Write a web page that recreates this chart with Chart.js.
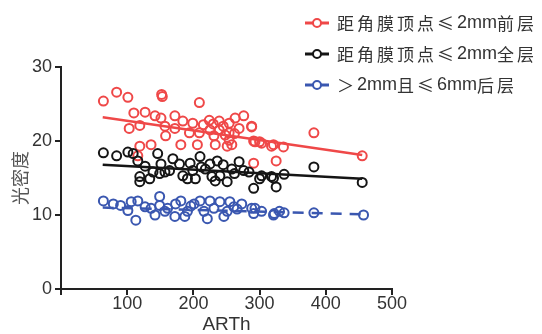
<!DOCTYPE html>
<html>
<head>
<meta charset="utf-8">
<script src="https://cdn.jsdelivr.net/npm/chart.js@4.4.0/dist/chart.umd.min.js"></script>
<style>
  body { margin: 0; background: #fff; }
  #wrap { position: relative; width: 542px; height: 334px; }
  #legend { position: absolute; left: 304px; top: 7px; font-family: "Noto Sans CJK SC", sans-serif; font-size: 17px; color: #333; }
  .item { height: 31px; display: flex; align-items: center; white-space: nowrap; }
  .item svg { margin-right: 7px; }
  .cn { letter-spacing: 3px; }
  .num { font-family: "Liberation Sans", Arial, sans-serif; font-size: 18px; letter-spacing: 0; }
</style>
</head>
<body>
<div id="wrap">
  <canvas id="chart" width="542" height="334"></canvas>
  <div id="legend"></div>
</div>
<script>
// series: x = ARTh, y = optical density
const redX = [64, 84, 101, 152, 153, 209, 110, 127, 142, 151, 172, 184, 119, 103, 157, 172, 199, 224, 239, 254, 263, 276, 288, 194, 209, 225, 239, 254, 269, 158, 231, 254, 258, 291, 303, 321, 119, 136, 181, 206, 233, 251, 288, 382, 293, 300, 318, 336, 455, 116, 291, 325, 215, 245, 262, 230, 248];
const redY = [25.4, 26.6, 25.9, 26.3, 26.0, 25.2, 23.8, 23.9, 23.4, 23.1, 23.4, 22.7, 22.1, 21.7, 22.0, 21.7, 22.4, 22.8, 22.7, 22.4, 23.1, 23.4, 22.0, 21.1, 21.1, 21.5, 21.5, 21.1, 21.7, 20.7, 20.7, 20.1, 19.5, 20.0, 19.7, 19.5, 19.3, 19.5, 19.5, 19.5, 19.5, 19.3, 21.9, 21.1, 19.9, 19.9, 19.3, 19.2, 18.0, 18.0, 17.0, 17.3, 22.2, 22.0, 21.0, 22.3, 20.8];

const blackX = [64, 84, 101, 109, 116, 127, 146, 151, 157, 139, 119, 119, 134, 169, 179, 164, 184, 191, 199, 203, 210, 218, 225, 236, 240, 251, 258, 269, 276, 284, 303, 291, 318, 325, 382, 337, 321, 300, 455, 233, 149, 228, 245, 262, 212, 195];
const blackY = [18.4, 18.0, 18.5, 18.3, 17.3, 16.6, 18.3, 16.9, 15.8, 15.8, 15.2, 14.5, 14.9, 17.6, 16.9, 16.0, 15.3, 14.9, 16.0, 14.9, 17.9, 16.2, 16.9, 17.3, 15.3, 14.5, 16.2, 17.2, 16.0, 15.8, 15.3, 13.6, 15.2, 13.8, 16.5, 15.5, 15.0, 14.9, 14.4, 14.6, 15.6, 15.2, 16.8, 15.6, 16.5, 17.0];

const blueX = [64, 79, 90, 106, 116, 101, 113, 127, 136, 149, 149, 161, 157, 173, 181, 191, 187, 201, 210, 225, 216, 231, 240, 251, 255, 261, 273, 288, 291, 303, 321, 330, 142, 172, 246, 221, 337, 382, 457, 322, 293, 196, 266];
const blueY = [11.9, 11.5, 11.3, 11.8, 11.9, 10.6, 9.3, 11.1, 10.9, 12.5, 11.3, 10.9, 10.5, 11.5, 11.9, 10.5, 9.8, 11.5, 11.9, 11.9, 10.5, 10.9, 11.8, 10.5, 11.8, 11.1, 11.5, 10.9, 10.2, 10.5, 10.0, 10.5, 10.0, 9.8, 9.8, 9.5, 10.3, 10.3, 10.0, 10.2, 10.9, 11.2, 10.8];

// fitted lines, start and end
const fitX = [63, 455];
const redFit = [23.2, 18.1];
const blackFit = [16.8, 14.9];
const blueFit = [11.0, 10.1];

const xTicks = [0, 100, 200, 300, 400, 500];
const yTicks = [0, 10, 20, 30];

const legendNames = ['距角膜顶点≤2mm前层', '距角膜顶点≤2mm全层', '＞2mm且≤6mm后层'];

const RED = '#ef4848';
const BLACK = '#151515';
const BLUE = '#3a57b0';

function pts(xs, ys) {
  return xs.map((x, i) => ({ x: x, y: ys[i] }));
}

function scatter(xs, ys, color) {
  return {
    type: 'scatter',
    data: pts(xs, ys),
    borderColor: color,
    backgroundColor: 'rgba(0,0,0,0)',
    pointRadius: 4.5,
    pointBorderWidth: 2,
  };
}

function fitLine(ys, color, dash) {
  return {
    type: 'line',
    data: pts(fitX, ys),
    borderColor: color,
    borderWidth: 2.5,
    borderDash: dash || [],
    pointRadius: 0,
    fill: false,
  };
}

const latin = '"Liberation Sans", Arial, sans-serif';
const tickFont = { family: latin, size: 18, lineHeight: 1 };

new Chart(document.getElementById('chart'), {
  data: {
    datasets: [
      fitLine(blueFit, BLUE, [11, 8]),
      fitLine(blackFit, BLACK),
      fitLine(redFit, RED),
      scatter(blueX, blueY, BLUE),
      scatter(blackX, blackY, BLACK),
      scatter(redX, redY, RED),
    ],
  },
  options: {
    responsive: false,
    animation: false,
    layout: { padding: { top: 67, right: 150, left: 11, bottom: 0 } },
    plugins: { legend: { display: false }, tooltip: { enabled: false } },
    scales: {
      x: {
        type: 'linear',
        min: 0,
        max: 500,
        afterBuildTicks: (axis) => { axis.ticks = xTicks.map(v => ({ value: v })); },
        ticks: { color: '#333', font: tickFont, padding: 0, callback: v => (v === 0 ? '' : v) },
        grid: { drawOnChartArea: false, color: '#222', lineWidth: 2, tickLength: 6 },
        border: { color: '#222', width: 2 },
        title: { display: true, text: 'ARTh', color: '#333', font: { family: latin, size: 19, lineHeight: 1 }, padding: { top: 2, bottom: 0 } },
      },
      y: {
        min: 0,
        max: 30,
        afterBuildTicks: (axis) => { axis.ticks = yTicks.map(v => ({ value: v })); },
        ticks: { color: '#333', font: tickFont, padding: 3 },
        grid: { drawOnChartArea: false, color: '#222', lineWidth: 2, tickLength: 6 },
        border: { color: '#222', width: 2 },
        title: { display: true, text: '光密度', color: '#555', font: { family: '"Noto Sans CJK SC", sans-serif', size: 18, lineHeight: 1 }, padding: { top: 0, bottom: 0 } },
      },
    },
  },
});

// legend: CJK runs get letter spacing, latin runs do not
const legend = document.getElementById('legend');
[RED, BLACK, BLUE].forEach((c, i) => {
  const row = document.createElement('div');
  row.className = 'item';
  row.innerHTML =
    '<svg width="26" height="12"><line x1="1" y1="6" x2="25" y2="6" stroke="' + c + '" stroke-width="3"/>' +
    '<circle cx="13" cy="6" r="4" fill="#fff" stroke="' + c + '" stroke-width="2"/></svg>';
  legendNames[i].split(/([0-9a-z]+)/).forEach(part => {
    if (!part) return;
    const span = document.createElement('span');
    span.className = /^[0-9a-z]+$/.test(part) ? 'num' : 'cn';
    span.textContent = part;
    row.appendChild(span);
  });
  legend.appendChild(row);
});
</script>
</body>
</html>
